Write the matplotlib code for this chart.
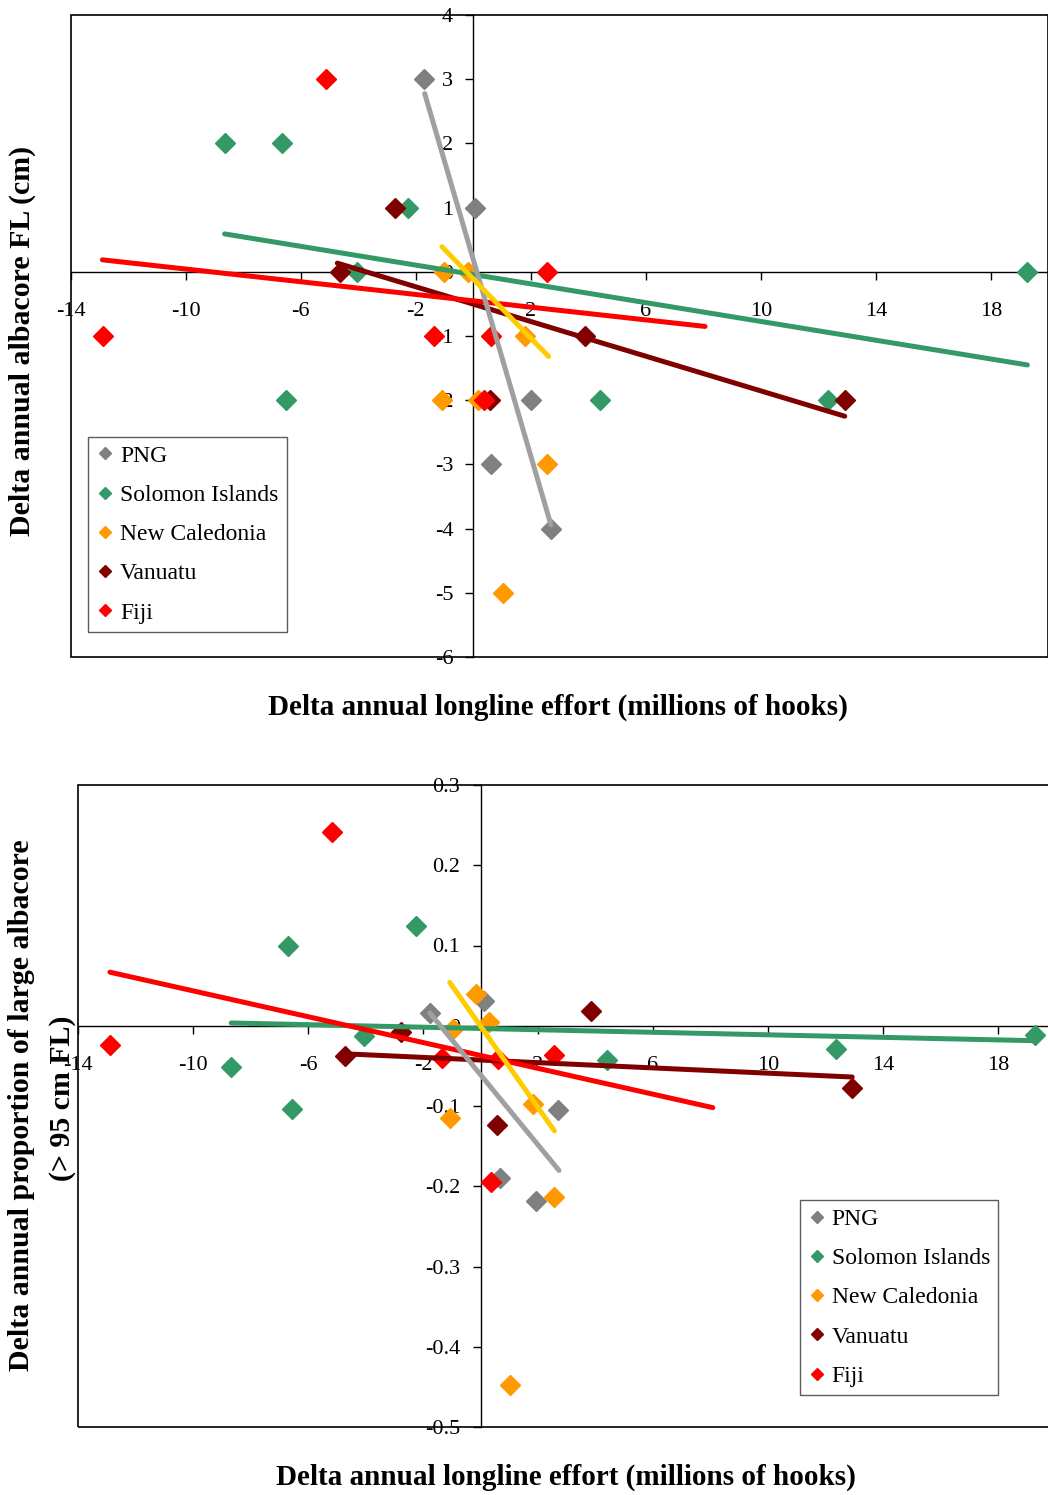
import matplotlib
matplotlib.use('Agg')
import matplotlib.pyplot as plt
from matplotlib.patches import Rectangle
import numpy as np

plt.rcParams['font.family'] = ['Liberation Serif', 'DejaVu Serif']
plt.rcParams['axes.unicode_minus'] = False

names = ['PNG', 'Solomon Islands', 'New Caledonia', 'Vanuatu', 'Fiji']
marker_cols = ['#808080', '#339966', '#FF9900', '#800000', '#FF0000']
line_cols = ['#A0A0A0', '#339966', '#FFCC00', '#800000', '#FF0000']

# top panel: delta FL (cm)
fl_x = [[-1.7, 0.07, 0.6, 2.0, 2.7],
        [-8.65, -6.67, -2.26, -4.03, -6.53, 4.41, 12.33, 19.27],
        [-1.03, -0.2, 1.8, 2.56, 1.05, -1.09, 0.17],
        [-2.71, -4.65, 0.59, 3.89, 12.92],
        [-5.14, -12.88, -1.35, 0.63, 0.36, 2.57]]
fl_y = [[3, 1, -3, -2, -4],
        [2, 2, 1, 0, -2, -2, -2, 0],
        [0, 0, -1, -3, -5, -2, -2],
        [1, 0, -2, -1, -2],
        [3, -1, -1, -1, -2, 0]]
# linear trends: slope, intercept, x span
fl_slope = [-1.53, -0.0731, -0.461, -0.1351, -0.0495]
fl_icpt = [0.19, -0.042, -0.112, -0.504, -0.452]
fl_span = [(-1.69, 2.7), (-8.65, 19.27), (-1.09, 2.62), (-4.73, 12.92), (-12.9, 8.06)]

# bottom panel: delta proportion > 95 cm
pr_x = [[-1.76, 0.11, 2.69, 0.67, 1.94],
        [-6.69, -2.25, -8.67, -6.56, -4.05, 4.41, 12.35, 19.27],
        [-0.14, 0.31, -0.95, -1.07, 1.82, 2.54, 1.04],
        [-4.72, -2.75, 0.57, 3.85, 12.93],
        [-5.16, -12.88, -1.33, 0.6, 0.37, 2.54]]
pr_y = [[0.016, 0.031, -0.105, -0.19, -0.219],
        [0.099, 0.124, -0.051, -0.104, -0.013, -0.043, -0.029, -0.011],
        [0.039, 0.005, -0.004, -0.115, -0.098, -0.213, -0.448],
        [-0.038, -0.008, -0.124, 0.018, -0.077],
        [0.242, -0.024, -0.040, -0.042, -0.195, -0.036]]
pr_slope = [-0.0437, -0.00079, -0.0508, -0.00164, -0.00805]
pr_icpt = [-0.061, -0.0034, -0.0004, -0.0427, -0.037]
pr_span = [(-1.76, 2.73), (-8.67, 19.27), (-1.07, 2.57), (-4.72, 12.93), (-12.89, 8.08)]

xticks = [-14, -10, -6, -2, 2, 6, 10, 14, 18]
fl_ticks = [4, 3, 2, 1, 0, -1, -2, -3, -4, -5, -6]
pr_ticks = [0.3, 0.2, 0.1, 0, -0.1, -0.2, -0.3, -0.4, -0.5]

W, H = 1048, 1495
fig = plt.figure(figsize=(W / 100, H / 100), dpi=100)

def panel(rect, xs, ys, slope, icpt, span, yticks, ylim, fmt, leg_anchor):
    ax = fig.add_axes(rect)
    ax.set_xlim(-14, 20)
    ax.set_ylim(*ylim)
    for s in ['top', 'right']:
        ax.spines[s].set_visible(False)
    ax.spines['left'].set_position(('data', 0))
    ax.spines['bottom'].set_position(('data', 0))
    for s in ['left', 'bottom']:
        ax.spines[s].set_linewidth(1)
    ax.add_patch(Rectangle((0, 0), 1, 1, transform=ax.transAxes, fill=False,
                           edgecolor='black', lw=1.2, clip_on=False, zorder=3))
    ax.set_xticks(xticks)
    ax.set_xticklabels([str(v) for v in xticks])
    ax.set_yticks(yticks)
    ax.set_yticklabels([fmt(v) for v in yticks])
    ax.tick_params(axis='x', direction='out', length=6, width=1, pad=16, labelsize=16)
    ax.tick_params(axis='y', direction='out', length=6, width=1, pad=8.5, labelsize=16)

    for i in range(5):
        ax.plot(xs[i], ys[i], linestyle='none', marker='D', ms=10,
                color=marker_cols[i], mec=marker_cols[i], label=names[i],
                zorder=4, clip_on=False)
    for i in [1, 3, 4, 0, 2]:
        tx = np.array(span[i])
        ax.plot(tx, slope[i] * tx + icpt[i], color=line_cols[i], lw=3.6,
                solid_capstyle='round', zorder=5)

    leg = ax.legend(loc='lower left', bbox_to_anchor=leg_anchor, fontsize=17,
                    frameon=True, fancybox=False, edgecolor='#333333',
                    markerscale=0.6, handlelength=0.7, handletextpad=0.3,
                    labelspacing=0.75, borderpad=0.35, borderaxespad=0)
    leg.get_frame().set_linewidth(1)
    return ax

panel([70.8 / W, 1 - 657 / H, 977.5 / W, 642 / H], fl_x, fl_y, fl_slope, fl_icpt,
      fl_span, fl_ticks, (-6, 4), lambda v: '%d' % v, (0.0176, 0.039))
panel([78 / W, 1 - 1427 / H, 977.5 / W, 642 / H], pr_x, pr_y, pr_slope, pr_icpt,
      pr_span, pr_ticks, (-0.5, 0.3), lambda v: '0' if v == 0 else '%.1f' % v,
      (0.7386, 0.0498))

lab = dict(fontsize=21, fontweight='bold', ha='center', va='center')
fig.text(558 / W, 1 - 707 / H, 'Delta annual longline effort (millions of hooks)', **lab)
fig.text(566 / W, 1 - 1477 / H, 'Delta annual longline effort (millions of hooks)', **lab)
lab['fontsize'] = 21.5
fig.text(22 / W, 1 - 341 / H, 'Delta annual albacore FL (cm)', rotation=90, **lab)
fig.text(22 / W, 1 - 1105 / H, 'Delta annual proportion of large albacore', rotation=90, **lab)
fig.text(62 / W, 1 - 1098 / H, '(> 95 cm FL)', rotation=90, **lab)

fig.savefig('out.png', dpi=100)
